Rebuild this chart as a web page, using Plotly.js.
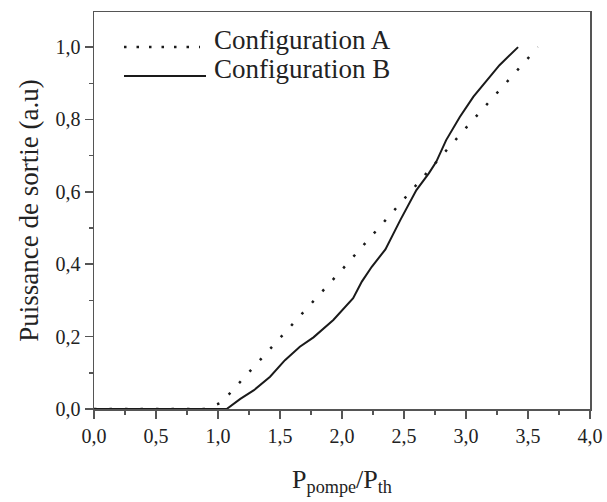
<!DOCTYPE html>
<html>
<head>
<meta charset="utf-8">
<script src="https://cdn.plot.ly/plotly-3.0.1.min.js"></script>
<style>html,body{margin:0;padding:0;background:#fff;}</style>
</head>
<body>
<div id="chart" style="width:607px;height:502px;"></div>
<script>
// Series names
var seriesNames = ["Configuration A", "Configuration B"];

// Configuration A (dotted)
var aX = [0, 0.90, 0.93, 1.03, 1.10, 1.50, 2.00, 2.50, 3.00, 3.58];
var aY = [0, 0.000, 0.005, 0.018, 0.045, 0.195, 0.385, 0.580, 0.777, 1.000];

// Configuration B (solid)
var bX = [0, 1.07, 1.18, 1.29, 1.42, 1.54, 1.66, 1.77, 1.93, 2.09, 2.16, 2.24, 2.35, 2.47, 2.60, 2.70, 2.76, 2.84, 2.95, 3.06, 3.17, 3.27, 3.42];
var bY = [0, 0.000, 0.028, 0.052, 0.089, 0.135, 0.172, 0.198, 0.246, 0.306, 0.352, 0.393, 0.441, 0.522, 0.605, 0.651, 0.683, 0.743, 0.807, 0.863, 0.909, 0.950, 1.000];

// Tick values
var xTicks = [0, 0.5, 1.0, 1.5, 2.0, 2.5, 3.0, 3.5, 4.0];
var yTicks = [0, 0.2, 0.4, 0.6, 0.8, 1.0];

var ink = "#1a1a1a";
var serif = "Liberation Serif";

var traces = [
  {x: aX, y: aY, type: "scatter", mode: "lines", name: seriesNames[0],
   line: {color: ink, width: 2.5, dash: "2.5px,13px"}, showlegend: false},
  {x: bX, y: bY, type: "scatter", mode: "lines", name: seriesNames[1],
   line: {color: ink, width: 2}, showlegend: false}
];

var axisCommon = {
  showgrid: false, zeroline: false, showline: true, mirror: true,
  linecolor: "#555", linewidth: 1.5,
  ticks: "outside", ticklen: 8, tickwidth: 1.5, tickcolor: "#555",
  tickfont: {family: serif, size: 20, color: "#222"},
  tickformat: ".1f"
};

var layout = {
  width: 607, height: 502,
  margin: {l: 94, r: 17, t: 12, b: 93},
  paper_bgcolor: "#fff", plot_bgcolor: "#fff",
  separators: ",.",
  showlegend: false,
  font: {family: serif, color: "#222"},
  xaxis: Object.assign({}, axisCommon, {
    range: [0, 4], tickvals: xTicks,
    minor: {dtick: 0.25, ticks: "outside", ticklen: 4, tickwidth: 1.5, tickcolor: "#555", showgrid: false},
    title: {text: "P<sub>pompe</sub>/P<sub>th</sub>", font: {family: serif, size: 26, color: "#222"}, standoff: 24}
  }),
  yaxis: Object.assign({}, axisCommon, {
    range: [0, 1.097], tickvals: yTicks,
    minor: {dtick: 0.1, ticks: "outside", ticklen: 4, tickwidth: 1.5, tickcolor: "#555", showgrid: false},
    title: {text: "Puissance de sortie (a.u)", font: {family: serif, size: 27, color: "#222"}, standoff: 9}
  }),
  shapes: [
    {type: "line", xref: "paper", yref: "paper", x0: 0.0605, x1: 0.2137, y0: 0.9118, y1: 0.9118,
     line: {color: ink, width: 2.5, dash: "2.5px,10px"}},
    {type: "line", xref: "paper", yref: "paper", x0: 0.0605, x1: 0.2258, y0: 0.8388, y1: 0.8388,
     line: {color: ink, width: 2}}
  ],
  annotations: [
    {xref: "paper", yref: "paper", x: 0.238, y: 0.930, xanchor: "left", yanchor: "middle",
     text: seriesNames[0], showarrow: false, font: {family: serif, size: 27, color: "#222"}},
    {xref: "paper", yref: "paper", x: 0.238, y: 0.856, xanchor: "left", yanchor: "middle",
     text: seriesNames[1], showarrow: false, font: {family: serif, size: 27, color: "#222"}}
  ]
};

Plotly.newPlot("chart", traces, layout, {staticPlot: true, displayModeBar: false});
</script>
</body>
</html>
